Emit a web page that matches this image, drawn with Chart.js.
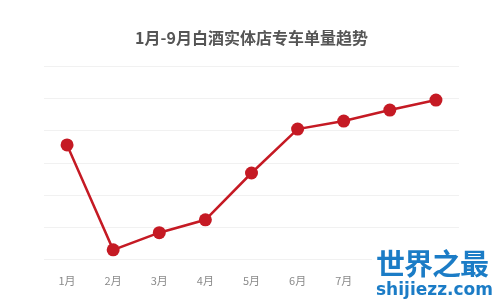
<!DOCTYPE html>
<html>
<head>
<meta charset="utf-8">
<script src="https://cdn.jsdelivr.net/npm/chart.js@4"></script>
<style>
  html, body { margin: 0; padding: 0; background: #fff; }
  #wrap { position: relative; width: 500px; height: 303px; }
  #mark { position: absolute; left: 372px; top: 244px; width: 124px; height: 56px; background: #fff; }
  .mark { position: absolute; left: 4px; color: #1b7cc6; font-family: "Noto Sans CJK SC", sans-serif; font-weight: bold; white-space: nowrap; }
  #mark1 { top: 0; font-size: 29px; letter-spacing: -1px; line-height: 36px; }
  #mark2 { top: 35px; font-size: 17px; line-height: 20px; font-family: "DejaVu Sans", sans-serif; }
</style>
</head>
<body>
<div id="wrap">
  <canvas id="trend-chart" width="500" height="303"></canvas>
  <div id="mark">
    <div class="mark" id="mark1">世界之最</div>
    <div class="mark" id="mark2">shijiezz.com</div>
  </div>
</div>
<script>
// chart data
const months = ["1月", "2月", "3月", "4月", "5月", "6月", "7月", "8月", "9月"];
const orders = [35.6, 3.1, 8.4, 12.4, 26.9, 40.5, 43.0, 46.4, 49.5];
const yMin = 0;
const yMax = 60;
const yStep = 10;

const ctx = document.getElementById("trend-chart").getContext("2d");

new Chart(ctx, {
  type: "line",
  data: {
    labels: months,
    datasets: [
      {
        data: orders,
        borderColor: "#c51a24",
        backgroundColor: "#c51a24",
        borderWidth: 2.5,
        fill: false,
        tension: 0,
        pointRadius: 6.5,
        pointHoverRadius: 6.5,
        pointBackgroundColor: "#c51a24",
        pointBorderColor: "#c51a24",
        pointBorderWidth: 0,
      },
    ],
  },
  options: {
    responsive: false,
    animation: false,
    layout: {
      padding: { left: 44, right: 41, top: 0, bottom: 10 },
    },
    plugins: {
      legend: { display: false },
      tooltip: { enabled: false },
      title: {
        display: true,
        text: "1月-9月白酒实体店专车单量趋势",
        color: "#555555",
        font: {
          family: "'Noto Sans CJK SC', sans-serif",
          size: 16,
          weight: "bold",
        },
        padding: { top: 28, bottom: 19 },
      },
    },
    scales: {
      x: {
        offset: true,
        grid: { display: false },
        border: { display: false },
        ticks: {
          color: "#8a8a8a",
          padding: 6,
          font: {
            family: "'Noto Sans CJK SC', sans-serif",
            size: 11,
          },
        },
      },
      y: {
        min: yMin,
        max: yMax,
        grid: {
          color: "#f1f1f1",
          lineWidth: 1,
          drawTicks: false,
        },
        border: { display: false },
        ticks: { display: false, stepSize: yStep },
      },
    },
  },
});
</script>
</body>
</html>
